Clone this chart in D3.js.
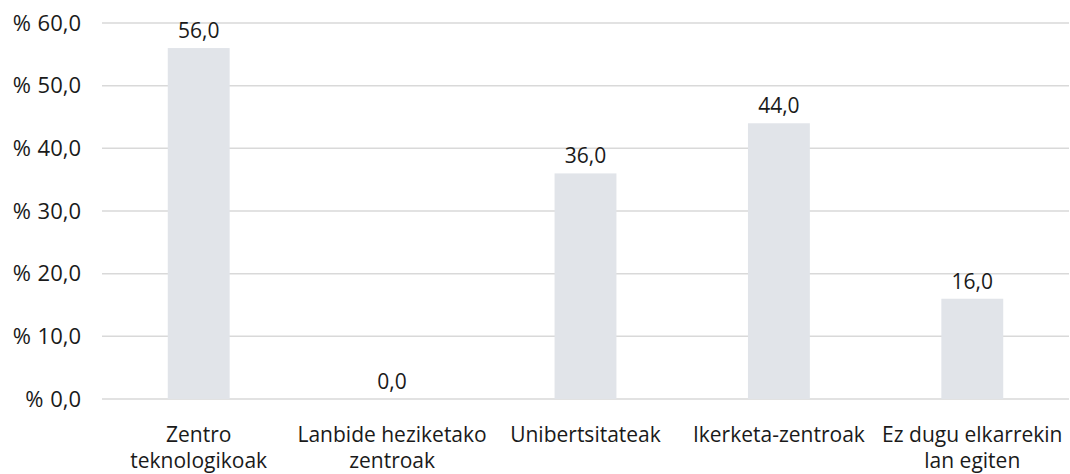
<!doctype html>
<html lang="eu">
<head>
<meta charset="UTF-8">
<title>Chart</title>
<script src="https://d3js.org/d3.v7.min.js"></script>
<style>
  body { margin: 0; background: #fff; }
  svg text { font-family: "Open Sans", "Noto Sans", sans-serif; fill: #1a1a1a; }
</style>
</head>
<body>
<div id="chart"></div>
<script>
// data
var categories = [
  ["Zentro", "teknologikoak"],
  ["Lanbide heziketako", "zentroak"],
  ["Unibertsitateak"],
  ["Ikerketa-zentroak"],
  ["Ez dugu elkarrekin", "lan egiten"]
];
var values = [56.0, 0.0, 36.0, 44.0, 16.0];
var yTicks = [0, 10, 20, 30, 40, 50, 60];

var width = 1070, height = 474;
var plotLeft = 102, plotRight = 1069, plotTop = 23, plotBottom = 399;
var fontSize = "21px";

var fmt = function(v){ return v.toFixed(1).replace(".", ","); };

var svg = d3.select("#chart").append("svg")
  .attr("width", width)
  .attr("height", height);

var x = d3.scaleBand()
  .domain(d3.range(categories.length))
  .range([plotLeft, plotRight])
  .paddingInner(0.68)
  .paddingOuter(0.34);

var y = d3.scaleLinear()
  .domain([0, 60])
  .range([plotBottom, plotTop]);

// gridlines
svg.append("g").selectAll("line")
  .data(yTicks)
  .enter().append("line")
  .attr("x1", plotLeft).attr("x2", plotRight)
  .attr("y1", function(d){ return y(d); })
  .attr("y2", function(d){ return y(d); })
  .attr("stroke", "#d9d9d9")
  .attr("stroke-width", 1.5);

// y labels
var yl = svg.append("g").selectAll("text")
  .data(yTicks)
  .enter().append("text")
  .attr("x", 81)
  .attr("y", function(d){ return y(d); })
  .attr("dy", "0.35em")
  .attr("text-anchor", "end")
  .style("font-size", "22px")
  .text("% ");
yl.append("tspan")
  .attr("dx", 1)
  .text(function(d){ return fmt(d); });

// bars
svg.append("g").selectAll("rect")
  .data(values)
  .enter().append("rect")
  .attr("x", function(d, i){ return x(i); })
  .attr("y", function(d){ return y(d); })
  .attr("width", x.bandwidth())
  .attr("height", function(d){ return plotBottom - y(d); })
  .attr("fill", "#e1e4e9");

// value labels
svg.append("g").selectAll("text")
  .data(values)
  .enter().append("text")
  .attr("x", function(d, i){ return x(i) + x.bandwidth() / 2; })
  .attr("y", function(d){ return y(d) - 10; })
  .attr("text-anchor", "middle")
  .style("font-size", fontSize)
  .text(function(d){ return fmt(d); });

// category labels
var cat = svg.append("g").selectAll("text")
  .data(categories)
  .enter().append("text")
  .attr("x", function(d, i){ return x(i) + x.bandwidth() / 2; })
  .attr("y", 442)
  .attr("text-anchor", "middle")
  .style("font-size", fontSize);

cat.selectAll("tspan")
  .data(function(d){ return d; })
  .enter().append("tspan")
  .attr("x", function(){ return this.parentNode.getAttribute("x"); })
  .attr("dy", function(d, i){ return i === 0 ? 0 : 26; })
  .text(function(d){ return d; });
</script>
</body>
</html>
